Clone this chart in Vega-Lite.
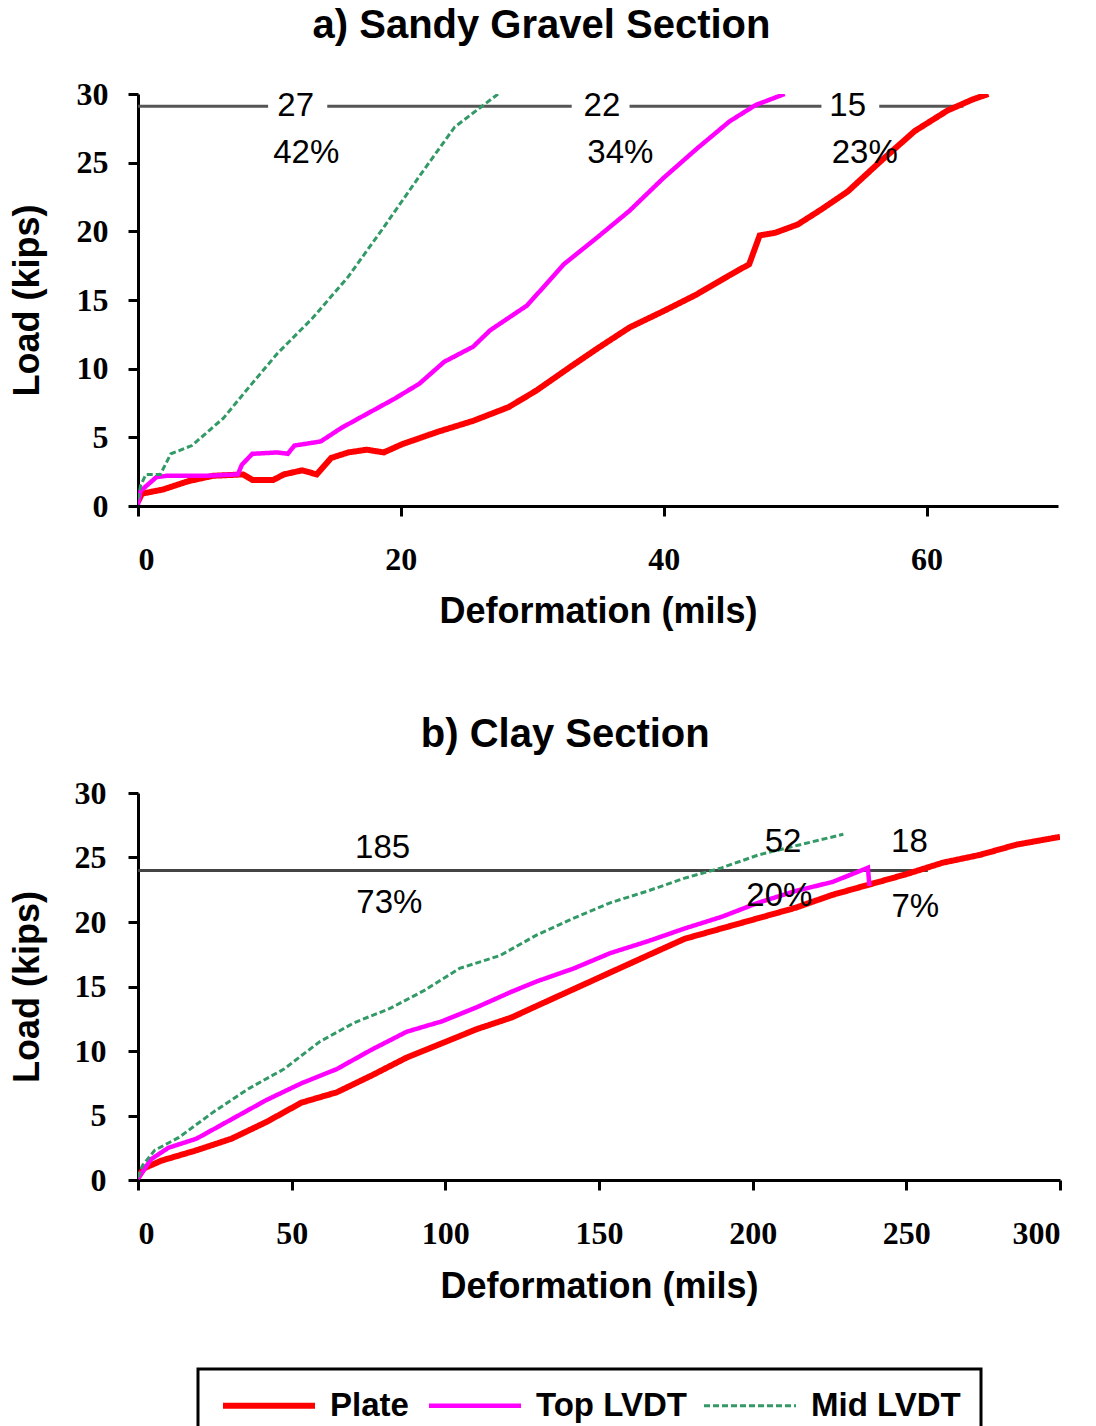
{
  "$schema": "https://vega.github.io/schema/vega-lite/v6.json",
  "padding": {"left": 9, "top": 6, "right": 5, "bottom": 5},
  "background": "white",
  "datasets": {
    "aCurves": [
      {"x":0,"y":0.3,"s":"Plate"},{"x":0.3,"y":0.9,"s":"Plate"},{"x":1.9,"y":1.2,"s":"Plate"},{"x":3.8,"y":1.8,"s":"Plate"},{"x":5.7,"y":2.2,"s":"Plate"},{"x":8.0,"y":2.3,"s":"Plate"},{"x":8.7,"y":1.9,"s":"Plate"},{"x":10.3,"y":1.9,"s":"Plate"},{"x":11.1,"y":2.3,"s":"Plate"},{"x":12.5,"y":2.6,"s":"Plate"},{"x":13.6,"y":2.3,"s":"Plate"},{"x":14.7,"y":3.5,"s":"Plate"},{"x":16.0,"y":3.9,"s":"Plate"},{"x":17.4,"y":4.1,"s":"Plate"},{"x":18.7,"y":3.9,"s":"Plate"},{"x":20.1,"y":4.5,"s":"Plate"},{"x":22.8,"y":5.4,"s":"Plate"},{"x":25.5,"y":6.2,"s":"Plate"},{"x":28.2,"y":7.2,"s":"Plate"},{"x":30.3,"y":8.4,"s":"Plate"},{"x":33.0,"y":10.2,"s":"Plate"},{"x":35.0,"y":11.5,"s":"Plate"},{"x":37.4,"y":13.0,"s":"Plate"},{"x":40.0,"y":14.2,"s":"Plate"},{"x":42.5,"y":15.4,"s":"Plate"},{"x":45.0,"y":16.8,"s":"Plate"},{"x":46.5,"y":17.6,"s":"Plate"},{"x":47.3,"y":19.7,"s":"Plate"},{"x":48.5,"y":19.9,"s":"Plate"},{"x":50.2,"y":20.5,"s":"Plate"},{"x":52.0,"y":21.6,"s":"Plate"},{"x":54.0,"y":22.9,"s":"Plate"},{"x":56.5,"y":25.1,"s":"Plate"},{"x":59.1,"y":27.3,"s":"Plate"},{"x":61.6,"y":28.8,"s":"Plate"},{"x":63.5,"y":29.6,"s":"Plate"},{"x":64.7,"y":30.0,"s":"Plate"},
      {"x":0,"y":0.1,"s":"Top LVDT"},{"x":0.2,"y":1.1,"s":"Top LVDT"},{"x":1.4,"y":2.1,"s":"Top LVDT"},{"x":2.2,"y":2.2,"s":"Top LVDT"},{"x":5.2,"y":2.2,"s":"Top LVDT"},{"x":7.6,"y":2.3,"s":"Top LVDT"},{"x":7.9,"y":3.0,"s":"Top LVDT"},{"x":8.7,"y":3.8,"s":"Top LVDT"},{"x":10.6,"y":3.9,"s":"Top LVDT"},{"x":11.4,"y":3.8,"s":"Top LVDT"},{"x":11.9,"y":4.4,"s":"Top LVDT"},{"x":13.9,"y":4.7,"s":"Top LVDT"},{"x":15.5,"y":5.7,"s":"Top LVDT"},{"x":17.4,"y":6.7,"s":"Top LVDT"},{"x":19.5,"y":7.8,"s":"Top LVDT"},{"x":21.4,"y":8.9,"s":"Top LVDT"},{"x":23.3,"y":10.5,"s":"Top LVDT"},{"x":25.5,"y":11.6,"s":"Top LVDT"},{"x":26.8,"y":12.8,"s":"Top LVDT"},{"x":29.6,"y":14.6,"s":"Top LVDT"},{"x":32.4,"y":17.6,"s":"Top LVDT"},{"x":35.0,"y":19.6,"s":"Top LVDT"},{"x":37.4,"y":21.5,"s":"Top LVDT"},{"x":40.0,"y":23.9,"s":"Top LVDT"},{"x":42.5,"y":26.0,"s":"Top LVDT"},{"x":45.0,"y":28.0,"s":"Top LVDT"},{"x":47.0,"y":29.2,"s":"Top LVDT"},{"x":49.2,"y":30.0,"s":"Top LVDT"},
      {"x":0,"y":0.5,"s":"Mid LVDT"},{"x":0.2,"y":1.5,"s":"Mid LVDT"},{"x":0.6,"y":2.3,"s":"Mid LVDT"},{"x":1.7,"y":2.3,"s":"Mid LVDT"},{"x":2.5,"y":3.8,"s":"Mid LVDT"},{"x":4.1,"y":4.4,"s":"Mid LVDT"},{"x":6.5,"y":6.4,"s":"Mid LVDT"},{"x":8.4,"y":8.6,"s":"Mid LVDT"},{"x":10.6,"y":11.1,"s":"Mid LVDT"},{"x":13.3,"y":13.7,"s":"Mid LVDT"},{"x":16.0,"y":16.7,"s":"Mid LVDT"},{"x":18.7,"y":20.3,"s":"Mid LVDT"},{"x":21.4,"y":24.0,"s":"Mid LVDT"},{"x":24.1,"y":27.6,"s":"Mid LVDT"},{"x":27.4,"y":30.0,"s":"Mid LVDT"}
    ],
    "bCurves": [
      {"x":0,"y":0.2,"s":"Plate"},{"x":1.9,"y":0.9,"s":"Plate"},{"x":7.6,"y":1.5,"s":"Plate"},{"x":19,"y":2.3,"s":"Plate"},{"x":30.4,"y":3.2,"s":"Plate"},{"x":41.8,"y":4.5,"s":"Plate"},{"x":53.2,"y":6.0,"s":"Plate"},{"x":64.7,"y":6.8,"s":"Plate"},{"x":76,"y":8.1,"s":"Plate"},{"x":87.5,"y":9.5,"s":"Plate"},{"x":98.9,"y":10.6,"s":"Plate"},{"x":110.3,"y":11.7,"s":"Plate"},{"x":121.6,"y":12.6,"s":"Plate"},{"x":129.8,"y":13.5,"s":"Plate"},{"x":141.8,"y":14.8,"s":"Plate"},{"x":153.8,"y":16.1,"s":"Plate"},{"x":165.8,"y":17.4,"s":"Plate"},{"x":177.9,"y":18.7,"s":"Plate"},{"x":189.9,"y":19.5,"s":"Plate"},{"x":201.9,"y":20.3,"s":"Plate"},{"x":213.9,"y":21.1,"s":"Plate"},{"x":225.9,"y":22.1,"s":"Plate"},{"x":237.9,"y":22.9,"s":"Plate"},{"x":249.9,"y":23.7,"s":"Plate"},{"x":261.9,"y":24.6,"s":"Plate"},{"x":273.9,"y":25.2,"s":"Plate"},{"x":285.9,"y":26.0,"s":"Plate"},{"x":300,"y":26.6,"s":"Plate"},
      {"x":0,"y":0.1,"s":"Top LVDT"},{"x":4.2,"y":1.6,"s":"Top LVDT"},{"x":9.9,"y":2.5,"s":"Top LVDT"},{"x":19,"y":3.2,"s":"Top LVDT"},{"x":30.4,"y":4.7,"s":"Top LVDT"},{"x":41.8,"y":6.2,"s":"Top LVDT"},{"x":53.2,"y":7.5,"s":"Top LVDT"},{"x":64.7,"y":8.6,"s":"Top LVDT"},{"x":76,"y":10.1,"s":"Top LVDT"},{"x":87.5,"y":11.5,"s":"Top LVDT"},{"x":98.9,"y":12.3,"s":"Top LVDT"},{"x":110.3,"y":13.4,"s":"Top LVDT"},{"x":121.6,"y":14.6,"s":"Top LVDT"},{"x":129.8,"y":15.4,"s":"Top LVDT"},{"x":141.8,"y":16.4,"s":"Top LVDT"},{"x":153.8,"y":17.6,"s":"Top LVDT"},{"x":165.8,"y":18.5,"s":"Top LVDT"},{"x":177.9,"y":19.5,"s":"Top LVDT"},{"x":189.9,"y":20.4,"s":"Top LVDT"},{"x":201.9,"y":21.5,"s":"Top LVDT"},{"x":213.9,"y":22.4,"s":"Top LVDT"},{"x":225.9,"y":23.1,"s":"Top LVDT"},{"x":237.5,"y":24.2,"s":"Top LVDT"},{"x":238.0,"y":22.8,"s":"Top LVDT"},
      {"x":0,"y":0.2,"s":"Mid LVDT"},{"x":1.4,"y":1.1,"s":"Mid LVDT"},{"x":5.4,"y":2.3,"s":"Mid LVDT"},{"x":13.3,"y":3.3,"s":"Mid LVDT"},{"x":24.7,"y":5.3,"s":"Mid LVDT"},{"x":36.1,"y":7.1,"s":"Mid LVDT"},{"x":47.5,"y":8.6,"s":"Mid LVDT"},{"x":59.0,"y":10.7,"s":"Mid LVDT"},{"x":70.4,"y":12.2,"s":"Mid LVDT"},{"x":82,"y":13.3,"s":"Mid LVDT"},{"x":93.2,"y":14.7,"s":"Mid LVDT"},{"x":104.6,"y":16.4,"s":"Mid LVDT"},{"x":117.8,"y":17.4,"s":"Mid LVDT"},{"x":129.8,"y":19.0,"s":"Mid LVDT"},{"x":141.8,"y":20.3,"s":"Mid LVDT"},{"x":153.8,"y":21.5,"s":"Mid LVDT"},{"x":165.8,"y":22.4,"s":"Mid LVDT"},{"x":177.9,"y":23.4,"s":"Mid LVDT"},{"x":189.9,"y":24.2,"s":"Mid LVDT"},{"x":201.9,"y":25.2,"s":"Mid LVDT"},{"x":213.9,"y":25.9,"s":"Mid LVDT"},{"x":229.5,"y":26.8,"s":"Mid LVDT"}
    ],
    "aRef": [
      {"x":0,"x2":9.9,"y":29.1},{"x":14.4,"x2":33.0,"y":29.1},{"x":37.4,"x2":52.0,"y":29.1},{"x":56.4,"x2":62.8,"y":29.1}
    ],
    "bRef": [
      {"x":0,"x2":257,"y":24.0}
    ],
    "aText": [
      {"x":12.0,"y":29.1,"t":"27"},{"x":12.8,"y":25.7,"t":"42%"},
      {"x":35.3,"y":29.1,"t":"22"},{"x":36.7,"y":25.7,"t":"34%"},
      {"x":54.0,"y":29.1,"t":"15"},{"x":55.3,"y":25.7,"t":"23%"}
    ],
    "bText": [
      {"x":79.6,"y":25.7,"t":"185"},{"x":81.8,"y":21.5,"t":"73%"},
      {"x":209.9,"y":26.2,"t":"52"},{"x":208.7,"y":22.0,"t":"20%"},
      {"x":251,"y":26.2,"t":"18"},{"x":252.9,"y":21.2,"t":"7%"}
    ]
  },
  "vconcat": [
    {
      "title": {"text": "a) Sandy Gravel Section", "offset": 32, "dx": 8},
      "width": 920,
      "height": 412,
      "layer": [
        {
          "data": {"name": "aRef"},
          "mark": {"type": "rule", "color": "#555555", "strokeWidth": 3},
          "encoding": {
            "x": {"field": "x", "type": "quantitative", "scale": {"domain": [0, 70]}},
            "x2": {"field": "x2"},
            "y": {"field": "y", "type": "quantitative", "scale": {"domain": [0, 30]}}
          }
        },
        {
          "data": {"name": "aCurves"},
          "mark": {"type": "line", "clip": true},
          "encoding": {
            "x": {"field": "x", "type": "quantitative", "scale": {"domain": [0, 70]},
              "axis": {"values": [0, 20, 40, 60], "title": "Deformation (mils)", "labelPadding": 28, "titlePadding": 19}},
            "y": {"field": "y", "type": "quantitative", "scale": {"domain": [0, 30]},
              "axis": {"values": [0, 5, 10, 15, 20, 25, 30], "title": "Load (kips)", "labelPadding": 20, "titlePadding": 30}},
            "color": {"field": "s", "type": "nominal", "scale": {"domain": ["Plate", "Top LVDT", "Mid LVDT"], "range": ["#ff0000", "#ff00ff", "#339966"]},
              "legend": {"title": null, "encode": {"legend": {"update": {"strokeWidth": {"value": 3}}}}}},
            "strokeWidth": {"field": "s", "type": "nominal", "scale": {"domain": ["Plate", "Top LVDT", "Mid LVDT"], "range": [6, 3, 2.8]}, "legend": {"title": null}},
            "strokeDash": {"field": "s", "type": "nominal", "scale": {"domain": ["Plate", "Top LVDT", "Mid LVDT"], "range": [[1, 0], [1, 0], [6, 3]]}, "legend": {"title": null}}
          }
        },
        {
          "data": {"name": "aText"},
          "mark": {"type": "text", "font": "Liberation Sans", "fontSize": 33, "color": "black", "align": "center", "baseline": "middle"},
          "encoding": {
            "x": {"field": "x", "type": "quantitative"},
            "y": {"field": "y", "type": "quantitative"},
            "text": {"field": "t", "type": "nominal"}
          }
        }
      ]
    },
    {
      "title": {"text": "b) Clay Section", "offset": 22, "dx": 30},
      "width": 922,
      "height": 387,
      "layer": [
        {
          "data": {"name": "bRef"},
          "mark": {"type": "rule", "color": "#444444", "strokeWidth": 3},
          "encoding": {
            "x": {"field": "x", "type": "quantitative", "scale": {"domain": [0, 300]}},
            "x2": {"field": "x2"},
            "y": {"field": "y", "type": "quantitative", "scale": {"domain": [0, 30]}}
          }
        },
        {
          "data": {"name": "bCurves"},
          "mark": {"type": "line", "clip": true},
          "encoding": {
            "x": {"field": "x", "type": "quantitative", "scale": {"domain": [0, 300]},
              "axis": {"values": [0, 50, 100, 150, 200, 250, 300], "title": "Deformation (mils)", "labelPadding": 28, "titlePadding": 20}},
            "y": {"field": "y", "type": "quantitative", "scale": {"domain": [0, 30]},
              "axis": {"values": [0, 5, 10, 15, 20, 25, 30], "title": "Load (kips)", "labelPadding": 22, "titlePadding": 28}},
            "color": {"field": "s", "type": "nominal", "scale": {"domain": ["Plate", "Top LVDT", "Mid LVDT"], "range": ["#ff0000", "#ff00ff", "#339966"]},
              "legend": {"title": null, "encode": {"legend": {"update": {"strokeWidth": {"value": 3}}}}}},
            "strokeWidth": {"field": "s", "type": "nominal", "scale": {"domain": ["Plate", "Top LVDT", "Mid LVDT"], "range": [6, 3, 2.8]}, "legend": {"title": null}},
            "strokeDash": {"field": "s", "type": "nominal", "scale": {"domain": ["Plate", "Top LVDT", "Mid LVDT"], "range": [[1, 0], [1, 0], [6, 3]]}, "legend": {"title": null}}
          }
        },
        {
          "data": {"name": "bText"},
          "mark": {"type": "text", "font": "Liberation Sans", "fontSize": 33, "color": "black", "align": "center", "baseline": "middle"},
          "encoding": {
            "x": {"field": "x", "type": "quantitative"},
            "y": {"field": "y", "type": "quantitative"},
            "text": {"field": "t", "type": "nominal"}
          }
        }
      ]
    }
  ],
  "spacing": 86,
  "config": {
    "view": {"stroke": null},
    "title": {"font": "Liberation Sans", "fontSize": 40, "fontWeight": "bold", "color": "black", "anchor": "middle", "frame": "bounds"},
    "axis": {
      "grid": false,
      "domainColor": "black", "domainWidth": 3,
      "tickColor": "black", "tickWidth": 3, "tickSize": 10,
      "labelFont": "Liberation Serif", "labelFontWeight": "bold", "labelFontSize": 32, "labelColor": "black",
      "titleFont": "Liberation Sans", "titleFontWeight": "bold", "titleFontSize": 36, "titleColor": "black"
    },
    "legend": {
      "orient": "none", "legendX": 60, "legendY": 1275,
      "direction": "horizontal",
      "symbolType": "M-1,0H7", "symbolSize": 529,
      "labelFont": "Liberation Sans", "labelFontWeight": "bold", "labelFontSize": 33, "labelColor": "black",
      "labelOffset": 79, "columnPadding": 11,
      "strokeColor": "black", "padding": 20
    }
  }
}
